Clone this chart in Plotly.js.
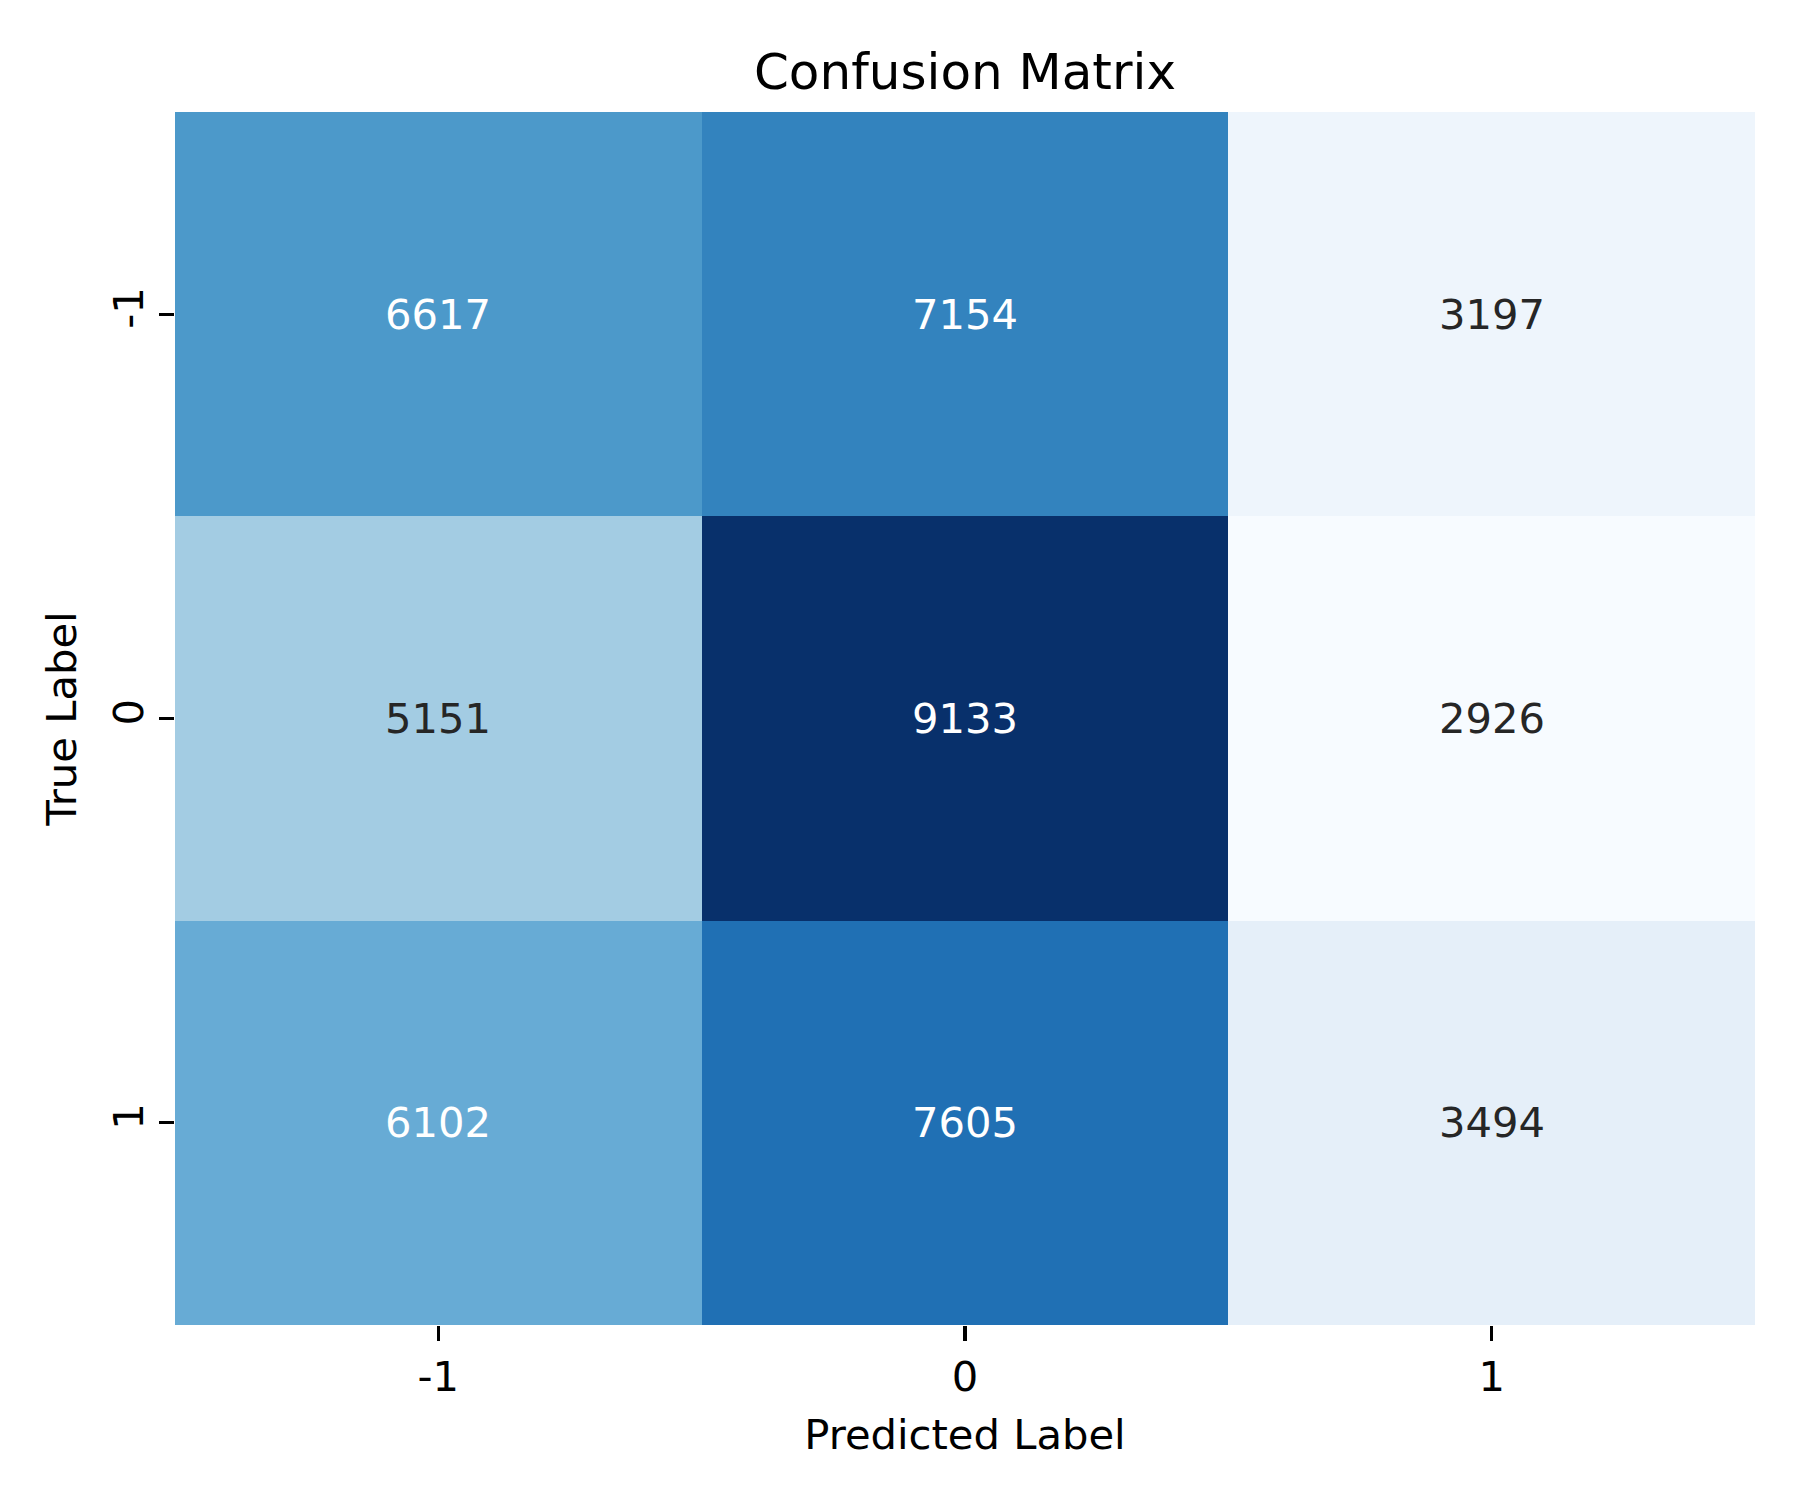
<!DOCTYPE html>
<html>
<head>
<meta charset="utf-8">
<script src="https://cdn.plot.ly/plotly-3.0.1.min.js"></script>
<style>html,body{margin:0;padding:0;background:#fff;}#chart{width:1800px;height:1500px;}</style>
</head>
<body>
<div id="chart"></div>
<script>
// Data
const predictedLabels = ['-1', '0', '1'];
const trueLabels = ['-1', '0', '1'];
const rowTrueMinus1 = [6617, 7154, 3197];
const rowTrue0 = [5151, 9133, 2926];
const rowTrue1 = [6102, 7605, 3494];
const counts = [rowTrueMinus1, rowTrue0, rowTrue1];

// matplotlib "Blues"
const bluesStops = ['#f7fbff','#deebf7','#c6dbef','#9ecae1','#6baed6','#4292c6','#2171b5','#08519c','#08306b'];
const colorscale = bluesStops.map((c, i) => [i / (bluesStops.length - 1), c]);

const allVals = counts.flat();
const zmin = Math.min(...allVals), zmax = Math.max(...allVals);

function hexToRgb(h){return [1,3,5].map(i=>parseInt(h.substr(i,2),16)/255);}
function colorFor(v){
  const t = (v - zmin) / (zmax - zmin);
  const pos = t * (bluesStops.length - 1);
  const i = Math.min(Math.floor(pos), bluesStops.length - 2);
  const f = pos - i;
  const a = hexToRgb(bluesStops[i]), b = hexToRgb(bluesStops[i+1]);
  return a.map((x,k)=>x+(b[k]-x)*f);
}
function luminance(rgb){
  const lin = rgb.map(c => c <= 0.03928 ? c/12.92 : Math.pow((c+0.055)/1.055, 2.4));
  return 0.2126*lin[0] + 0.7152*lin[1] + 0.0722*lin[2];
}

const annotations = [];
trueLabels.forEach((ty, r) => {
  predictedLabels.forEach((px, c) => {
    const v = counts[r][c];
    const lum = luminance(colorFor(v));
    annotations.push({
      // category axes: position by category index
      x: c, y: r, xref: 'x', yref: 'y', text: String(v), showarrow: false,
      font: {family: 'DejaVu Sans', size: 41.7, color: lum > 0.408 ? '#262626' : '#ffffff'}
    });
  });
});

const trace = {
  type: 'heatmap',
  x: predictedLabels,
  y: trueLabels,
  z: counts,
  colorscale: colorscale,
  zmin: zmin, zmax: zmax,
  showscale: false,
  xgap: 0, ygap: 0,
  hoverinfo: 'skip'
};

const layout = {
  width: 1800, height: 1500,
  paper_bgcolor: '#ffffff', plot_bgcolor: '#ffffff',
  margin: {l: 175, r: 45, t: 112, b: 175, pad: 0},
  font: {family: 'DejaVu Sans', size: 41.7, color: '#000000'},
  title: {
    text: 'Confusion Matrix',
    font: {family: 'DejaVu Sans', size: 50, color: '#000000'},
    x: 0.5361, xanchor: 'center', xref: 'container',
    y: 1 - 71/1500, yanchor: 'middle', yref: 'container'
  },
  xaxis: {
    type: 'category',
    categoryorder: 'array', categoryarray: predictedLabels,
    range: [-0.5, 2.5],
    ticks: 'outside', ticklen: 14.6, tickwidth: 3.3, tickcolor: '#000000',
    showgrid: false, zeroline: false, showline: false,
    tickfont: {family: 'DejaVu Sans', size: 41.7, color: '#000000'},
    title: {text: 'Predicted Label', font: {family: 'DejaVu Sans', size: 41.7, color: '#000000'}, standoff: 20},
    automargin: false
  },
  yaxis: {
    type: 'category',
    categoryorder: 'array', categoryarray: trueLabels,
    range: [2.5, -0.5],
    ticks: 'outside', ticklen: 14.6, tickwidth: 3.3, tickcolor: '#000000',
    tickangle: -90,
    showgrid: false, zeroline: false, showline: false,
    tickfont: {family: 'DejaVu Sans', size: 41.7, color: '#000000'},
    title: {text: 'True Label', font: {family: 'DejaVu Sans', size: 41.7, color: '#000000'}, standoff: 14},
    automargin: false
  },
  annotations: annotations
};

Plotly.newPlot('chart', [trace], layout, {displayModeBar: false, staticPlot: true});
</script>
</body>
</html>
